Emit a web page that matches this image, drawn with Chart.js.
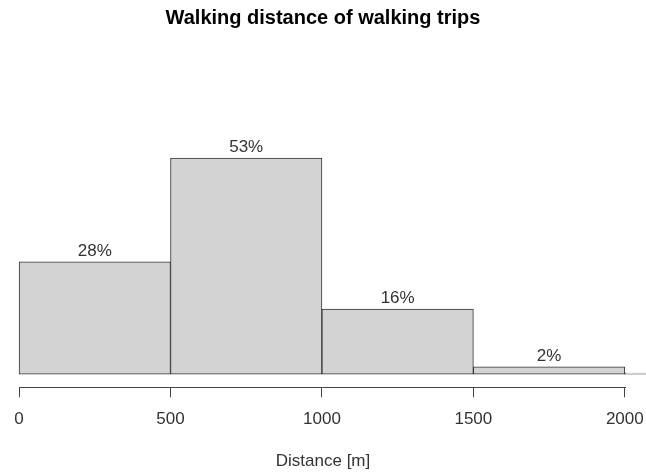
<!DOCTYPE html>
<html>
<head>
<meta charset="utf-8">
<title>Walking distance of walking trips</title>
<script src="https://cdn.jsdelivr.net/npm/chart.js@4/dist/chart.umd.min.js"></script>
<style>
  html, body { margin: 0; padding: 0; background: #fff; }
  #wrap { width: 646px; height: 472px; position: relative; }
</style>
</head>
<body>
<div id="wrap"><canvas id="chart"></canvas></div>
<script>
// histogram bins (metres) and share of trips (%)
const binStart = [0, 500, 1000, 1500, 2000];
const binWidth = 500;
const shares = [27.6, 53.1, 16.0, 1.8, 0.3];
const shareLabels = ['28%', '53%', '16%', '2%', ''];
const xTicks = [0, 500, 1000, 1500, 2000];

const FONT = '"Liberation Sans", Arial, Helvetica, sans-serif';

// R-style axis line: only spans the first to the last tick
const axisLine = {
    id: 'axisLine',
    afterDraw(chart) {
        const x = chart.scales.x;
        const ctx = chart.ctx;
        const y = Math.round(chart.chartArea.bottom) + 0.5;
        ctx.save();
        ctx.strokeStyle = '#444';
        ctx.lineWidth = 1;
        ctx.beginPath();
        ctx.moveTo(Math.round(x.getPixelForValue(xTicks[0])), y);
        ctx.lineTo(Math.round(x.getPixelForValue(xTicks[xTicks.length - 1])) + 1, y);
        ctx.stroke();
        ctx.restore();
    }
};

// percentage labels above the bars
const barLabels = {
    id: 'barLabels',
    afterDatasetsDraw(chart) {
        const ctx = chart.ctx;
        const meta = chart.getDatasetMeta(0);
        ctx.save();
        ctx.font = '17px ' + FONT;
        ctx.fillStyle = '#333';
        ctx.textAlign = 'center';
        ctx.textBaseline = 'middle';
        meta.data.forEach((bar, i) => {
            if (!shareLabels[i]) return;
            ctx.fillText(shareLabels[i], bar.x, bar.y - 11);
        });
        ctx.restore();
    }
};

new Chart(document.getElementById('chart'), {
    type: 'bar',
    data: {
        datasets: [{
            data: binStart.map((s, i) => ({ x: s + binWidth / 2, y: shares[i] })),
            backgroundColor: '#d3d3d3',
            borderColor: '#333',
            borderWidth: 1,
            borderSkipped: false,
            barPercentage: 1,
            categoryPercentage: 1
        }]
    },
    options: {
        responsive: true,
        maintainAspectRatio: false,
        animation: false,
        devicePixelRatio: 1,
        layout: { padding: 0 },
        plugins: {
            legend: { display: false },
            tooltip: { enabled: false },
            title: {
                display: true,
                text: 'Walking distance of walking trips',
                color: '#000',
                font: { family: FONT, size: 20, weight: 'bold', lineHeight: 1.2 },
                padding: { top: 6, bottom: 100 }
            }
        },
        scales: {
            x: {
                type: 'linear',
                min: -63,
                max: 2070,
                offset: false,
                afterBuildTicks: (scale) => {
                    scale.ticks = xTicks.map(v => ({ value: v }));
                },
                border: { display: false },
                grid: {
                    offset: false,
                    drawOnChartArea: false,
                    drawTicks: true,
                    tickLength: 10,
                    color: '#444',
                    lineWidth: 1
                },
                ticks: {
                    color: '#333',
                    padding: 0,
                    maxRotation: 0,
                    autoSkip: false,
                    callback: (v) => String(v),
                    // tall line box pushes the labels down without adding side padding
                    font: { family: FONT, size: 17, lineHeight: 2.55 }
                },
                title: {
                    display: true,
                    text: 'Distance [m]',
                    color: '#333',
                    font: { family: FONT, size: 17, lineHeight: 1.2 },
                    padding: { top: 11, bottom: 0 }
                }
            },
            y: {
                display: false,
                min: -3.19,
                max: 60
            }
        }
    },
    plugins: [axisLine, barLabels]
});
</script>
</body>
</html>
